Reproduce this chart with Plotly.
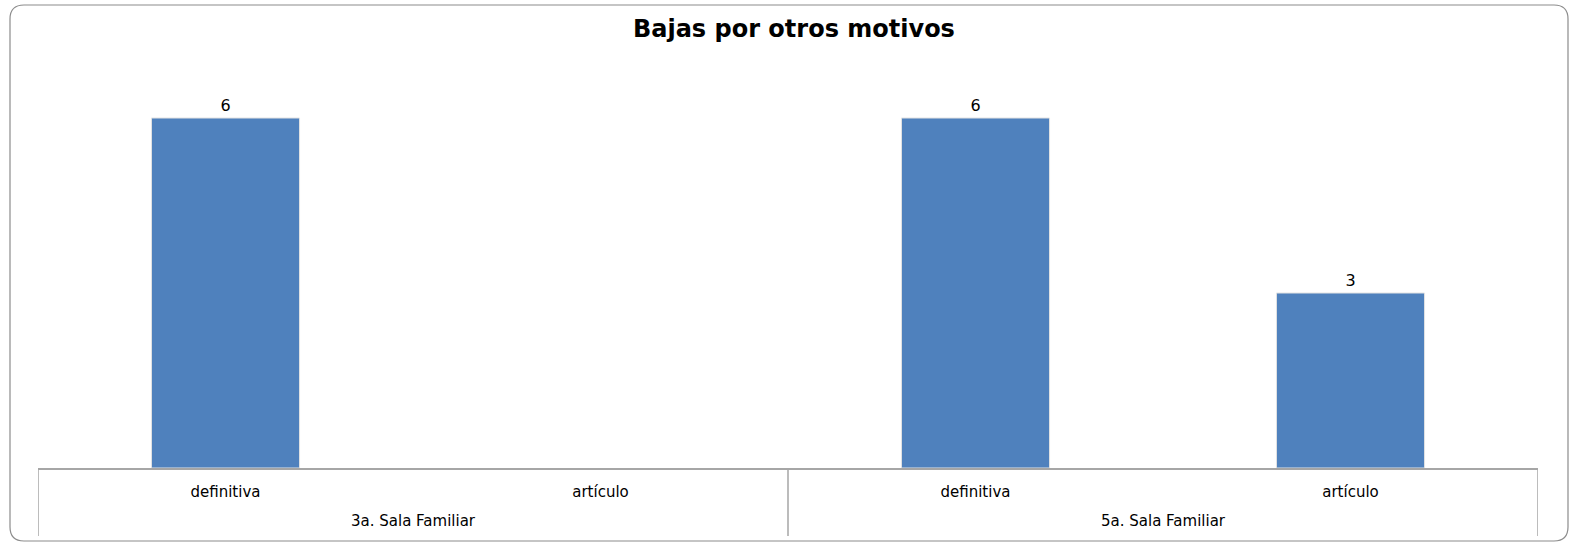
import plotly.graph_objects as go

groups = ["3a. Sala Familiar", "5a. Sala Familiar"]
types = ["definitiva", "artículo", "definitiva", "artículo"]
values = [6, None, 6, 3]
title_text = "Bajas por otros motivos"

W, H = 1590, 544
L, R, T, B = 38, 52, 83, 76
pw, ph = W - L - R, H - T - B

def px(x):
    return (x - L) / pw

def py(y):
    return (H - B - y) / ph

xpos = list(range(len(types)))

fig = go.Figure(go.Bar(
    x=xpos,
    y=values,
    marker=dict(color="#4F81BD", line=dict(color="#E3E3E3", width=1)),
    width=0.395,
    text=[("" if v is None else str(v)) for v in values],
    textposition="outside",
    textfont=dict(family="DejaVu Sans", size=16, color="#000000"),
    cliponaxis=False,
))

# rounded outer frame
x0, x1, y0, y1, r = 10, 1568, 5, 541, 14
path = (
    f"M {px(x0+r)},{py(y0)} L {px(x1-r)},{py(y0)} Q {px(x1)},{py(y0)} {px(x1)},{py(y0+r)} "
    f"L {px(x1)},{py(y1-r)} Q {px(x1)},{py(y1)} {px(x1-r)},{py(y1)} "
    f"L {px(x0+r)},{py(y1)} Q {px(x0)},{py(y1)} {px(x0)},{py(y1-r)} "
    f"L {px(x0)},{py(y0+r)} Q {px(x0)},{py(y0)} {px(x0+r)},{py(y0)} Z"
)
fig.add_shape(type="path", path=path, xref="paper", yref="paper",
              line=dict(color="#8C8C8C", width=1.2), layer="below")

# table dividers (group boundaries)
n_per_group = len(types) // len(groups)
for k in range(len(groups) + 1):
    xb = k * n_per_group - 0.5
    fig.add_shape(type="line", xref="x", yref="paper", x0=xb, x1=xb,
                  y0=0, y1=py(536), line=dict(color="#A6A6A6", width=1.5))

# group labels
for k, g in enumerate(groups):
    xc = k * n_per_group + (n_per_group - 1) / 2
    fig.add_annotation(x=xc, xref="x", y=py(521), yref="paper", text=g,
                       showarrow=False, yanchor="middle",
                       font=dict(family="DejaVu Sans", size=15, color="#000000"))

fig.update_layout(
    width=W, height=H,
    margin=dict(l=L, r=R, t=T, b=B),
    paper_bgcolor="white", plot_bgcolor="white",
    showlegend=False,
    title=dict(text=f"<b>{title_text}</b>", x=px(787), xanchor="center",
               y=1 - 29 / H, yanchor="middle",
               font=dict(family="DejaVu Sans", size=24, color="#000000")),
    xaxis=dict(tickmode="array", tickvals=xpos, ticktext=types,
               range=[-0.5, len(types) - 0.5],
               showline=True, linecolor="#A6A6A6", linewidth=1.5,
               ticks="", ticklabelstandoff=9,
               tickfont=dict(family="DejaVu Sans", size=15, color="#000000"),
               showgrid=False, zeroline=False),
    yaxis=dict(range=[0, 6.6], visible=False, showgrid=False),
)

fig.write_html(
    "out.html",
    config={"displayModeBar": False},
    post_script=(
        "document.body.style.margin='0';"
        "document.body.style.overflow='hidden';"
        "document.documentElement.style.overflow='hidden';"
    ),
)
